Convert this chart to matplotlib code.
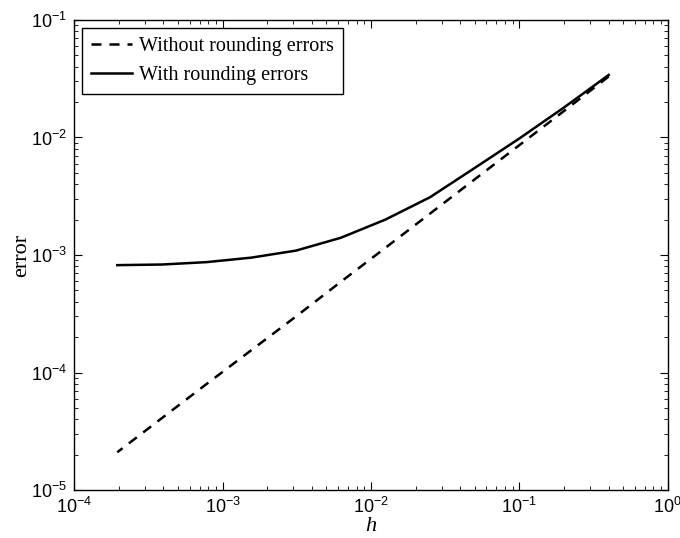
import matplotlib
matplotlib.use("Agg")
import matplotlib.pyplot as plt
import numpy as np

# step sizes and errors
h = [0.4, 0.2, 0.1, 0.05, 0.025, 0.0125, 0.00625, 0.003125,
     0.0015625, 0.00078125, 0.000390625, 0.0001953125]
err_exact = [0.033, 0.0168, 0.0086, 0.0044, 0.00225, 0.00115, 0.00059,
             0.0003, 0.000155, 8.0e-5, 4.1e-5, 2.1e-5]
err_round = [0.034, 0.018, 0.0098, 0.0055, 0.0031, 0.002, 0.0014,
             0.00109, 0.00095, 0.00087, 0.00083, 0.00082]
labels = ["Without rounding errors", "With rounding errors"]

plt.rcParams['mathtext.fontset'] = 'custom'
plt.rcParams['mathtext.rm'] = 'Liberation Sans'
plt.rcParams['mathtext.it'] = 'Liberation Sans:italic'
plt.rcParams['font.family'] = 'Liberation Sans'

fig = plt.figure(figsize=(6.8, 5.38), dpi=100)
ax = fig.add_axes([0.109, 0.089, 0.873, 0.874])

ax.loglog(h, err_exact, 'k--', lw=1.8, dashes=(4, 3.2), label=labels[0])
ax.loglog(h, err_round, 'k-', lw=1.8, label=labels[1])

ax.set_xlim(1e-4, 1e0)
ax.set_ylim(1e-5, 1e-1)
ax.tick_params(which='both', direction='in', top=True, right=True, labelsize=13, pad=5)
ax.tick_params(which='major', length=6)
ax.tick_params(which='minor', length=3)
for s in ax.spines.values():
    s.set_linewidth(1.0)

ax.set_xlabel('h', family='Liberation Serif', style='italic', fontsize=16, labelpad=0)
ax.set_ylabel('error', family='Liberation Serif', fontsize=16, labelpad=0)

leg = ax.legend(loc='upper left', prop={'family': 'Liberation Serif', 'size': 14.5},
                fancybox=False, edgecolor='k', framealpha=1, handlelength=2.0,
                borderaxespad=0.4, borderpad=0.45, labelspacing=0.5, handletextpad=0.35)
leg.get_frame().set_linewidth(1.0)

fig.savefig('out.png', dpi=100)
